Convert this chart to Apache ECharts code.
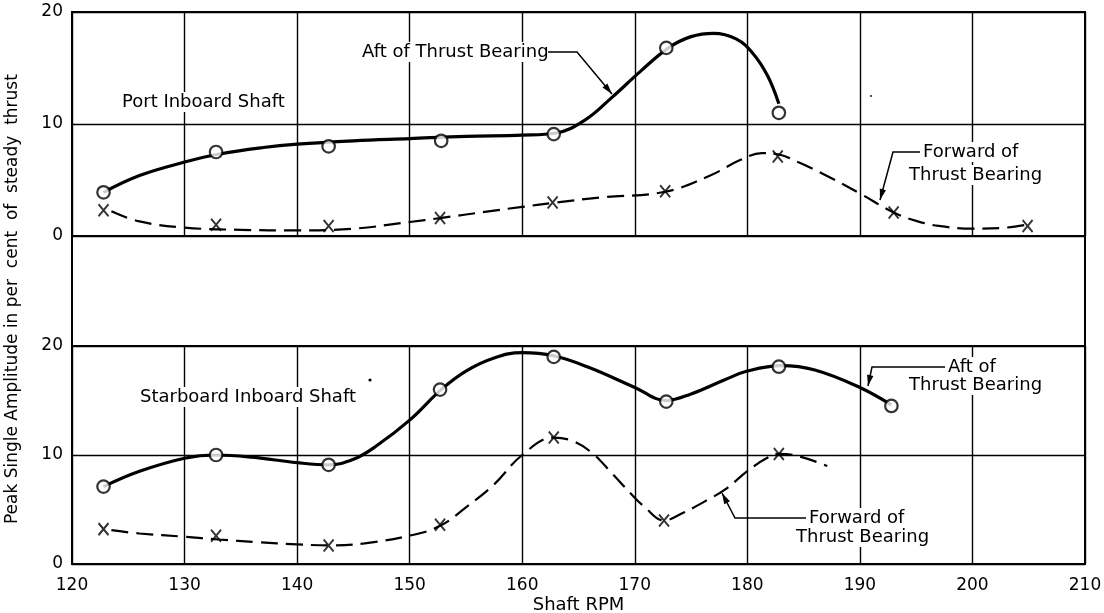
<!DOCTYPE html>
<html>
<head>
<meta charset="utf-8">
<script src="https://cdn.jsdelivr.net/npm/echarts/dist/echarts.min.js"></script>
<style>
html,body{margin:0;padding:0;background:#fff;}
#chart{width:1104px;height:613px;}
</style>
</head>
<body>
<div id="chart"></div>
<script>
// ---------- data (Shaft RPM, per cent of steady thrust) ----------
var xTicks = [120, 130, 140, 150, 160, 170, 180, 190, 200, 210];
var yTicks = [0, 10, 20];

// Port inboard shaft - aft of thrust bearing (measured points, circles)
var portAftPoints = [[122.8,3.9],[132.8,7.5],[142.8,8.0],[152.8,8.5],[162.8,9.1],[172.8,16.8],[182.8,11.0]];
// faired curve through them
var portAftCurve = [[122.8,3.9],[126,5.4],[130,6.6],[133,7.3],[137,7.9],[140,8.2],[145,8.5],[150,8.7],[155,8.9],[160,9.0],[163,9.2],[165.5,10.3],[168,12.4],[170.5,14.7],[173,16.8],[175,17.8],[177,18.1],[179,17.6],[180.5,16.3],[181.8,14.3],[182.8,11.8]];

// Port inboard shaft - forward of thrust bearing (X marks)
var portFwdPoints = [[122.8,2.3],[132.8,1.0],[142.8,0.9],[152.7,1.6],[162.7,3.0],[172.7,4.0],[182.7,7.1],[193.0,2.1],[204.9,0.9]];
var portFwdCurve = [[123.5,2.2],[126,1.3],[130,0.75],[135,0.55],[140,0.5],[145,0.65],[150,1.25],[152.7,1.6],[157,2.2],[160,2.6],[162.7,2.95],[167,3.45],[172.7,3.95],[176.7,5.4],[179.4,6.8],[181.3,7.4],[182.7,7.3],[184.5,6.6],[187,5.4],[190,3.8],[193,2.1],[195,1.35],[197,0.9],[200,0.66],[203,0.75],[204.8,1.0]];

// Starboard inboard shaft - aft of thrust bearing
var stbdAftPoints = [[122.8,7.1],[132.8,10.0],[142.8,9.1],[152.7,16.0],[162.8,19.0],[172.8,14.9],[182.8,18.1],[192.8,14.5]];
var stbdAftCurve = [[122.8,7.1],[126,8.5],[130,9.7],[132.8,10.0],[136,9.8],[140,9.3],[142.8,9.1],[145,9.6],[147,10.8],[150,13.2],[152.8,16.0],[155,17.7],[157.5,18.9],[160,19.4],[162.8,19.1],[166,18.0],[170,16.2],[172.8,15.0],[175,15.6],[178,16.9],[180,17.7],[183,18.2],[186,17.8],[190,16.2],[192.8,14.6]];

// Starboard inboard shaft - forward of thrust bearing
var stbdFwdPoints = [[122.8,3.2],[132.8,2.6],[142.8,1.7],[152.7,3.6],[162.8,11.6],[172.6,4.0],[182.8,10.1]];
var stbdFwdCurve = [[123.5,3.1],[126,2.8],[130,2.5],[133,2.25],[136.5,2.0],[140,1.8],[143,1.7],[146,1.9],[150,2.6],[152.7,3.5],[155,5.2],[157.5,7.3],[160,10.0],[162.8,11.6],[164.7,11.2],[166.3,10.1],[167.9,8.4],[169.7,6.4],[170.8,5.3],[172.6,4.0],[174.3,4.7],[176.5,5.9],[178.1,6.9],[180.1,8.6],[181.7,9.7],[182.8,10.1],[184.5,9.9],[187.1,9.0]];

// ---------- chart ----------
var FONT = 'DejaVu Sans';
var chart = echarts.init(document.getElementById('chart'), null, {renderer:'canvas'});

var L = 72, W = 1013;
var TOP1 = 12, H1 = 224, TOP2 = 346, H2 = 218;

function xAx(gi, showLabels) {
  return {
    type:'value', gridIndex:gi, min:xTicks[0], max:xTicks[xTicks.length-1], interval:10,
    axisLine:{show:false}, axisTick:{show:false},
    axisLabel:{show:showLabels, color:'#000', fontFamily:FONT, fontSize:17, margin:13},
    splitLine:{show:true, lineStyle:{color:'#000', width:1.4}},
    name: showLabels ? 'Shaft RPM' : '', nameLocation:'middle', nameGap:32,
    nameTextStyle:{color:'#000', fontFamily:FONT, fontSize:18}
  };
}
function yAx(gi) {
  return {
    type:'value', gridIndex:gi, min:yTicks[0], max:yTicks[yTicks.length-1], interval:10,
    axisLine:{show:false}, axisTick:{show:false},
    axisLabel:{color:'#000', fontFamily:FONT, fontSize:17, margin:9},
    splitLine:{show:true, lineStyle:{color:'#000', width:1.4}}
  };
}

var Xsym = 'path://M0,0L10,12M10,0L0,12';

function curve(data, gi, dashed) {
  return {
    type:'line', xAxisIndex:gi, yAxisIndex:gi, data:data, smooth:0.4,
    showSymbol:false, symbol:'none', z:3,
    lineStyle: dashed ? {color:'#000', width:2.2, type:[17,8]} : {color:'#000', width:3.2}
  };
}
function circles(data, gi) {
  return {
    type:'scatter', xAxisIndex:gi, yAxisIndex:gi, data:data, symbol:'circle', symbolSize:12.5, z:5,
    itemStyle:{color:'#fff', borderColor:'#000', borderWidth:2.2}
  };
}
function crosses(data, gi) {
  return {
    type:'scatter', xAxisIndex:gi, yAxisIndex:gi, data:data, symbol:Xsym, symbolSize:[10,12], z:5,
    itemStyle:{color:'transparent', borderColor:'#000', borderWidth:2}
  };
}

function label(text, x, y) {
  return {type:'text', x:x, y:y, z:50,
    style:{text:text, font:'18px "' + FONT + '"', fill:'#000', verticalAlign:'middle', align:'left',
      backgroundColor:'#fff', padding:[1,2]}};
}
function leader(pts) {
  var n = pts.length, tip = pts[n-1], prev = pts[n-2];
  var dx = tip[0]-prev[0], dy = tip[1]-prev[1], len = Math.sqrt(dx*dx+dy*dy);
  var ux = dx/len, uy = dy/len, hl = 11, hw = 3.2;
  var bx = tip[0]-ux*hl, by = tip[1]-uy*hl;
  return [
    {type:'polyline', z:50, shape:{points:pts}, style:{stroke:'#000', lineWidth:1.5, fill:null}},
    {type:'polygon', z:50, shape:{points:[tip,[bx-uy*hw, by+ux*hw],[bx+uy*hw, by-ux*hw]]}, style:{fill:'#000'}}
  ];
}

var graphics = [
  label('Port Inboard Shaft', 120, 102),
  label('Aft of Thrust Bearing', 360, 52),
  label('Forward of', 921, 152),
  label('Thrust Bearing', 907, 175),
  label('Starboard Inboard Shaft', 138, 397),
  label('Aft of', 946, 367),
  label('Thrust Bearing', 907, 385),
  label('Forward of', 807, 518),
  label('Thrust Bearing', 794, 537),
  {type:'circle', z:50, shape:{cx:370, cy:380, r:1.6}, style:{fill:'#000'}},
  {type:'circle', z:50, shape:{cx:871, cy:96, r:0.9}, style:{fill:'#000'}}
].concat(
  leader([[548,52],[577,52],[612,94]]),
  leader([[920,152],[893,152],[880,200]]),
  leader([[945,367],[872,367],[868,386]]),
  leader([[806,518],[735,518],[722,493]])
);

var gridBase = {left:L, width:W, show:true, borderColor:'#000', borderWidth:2, backgroundColor:'transparent',
  containLabel:false, outerBoundsMode:'none'};

var option = {
  animation:false,
  backgroundColor:'#fff',
  grid:[
    Object.assign({}, gridBase, {top:TOP1, height:H1}),
    Object.assign({}, gridBase, {top:TOP2, height:H2}),
    Object.assign({}, gridBase, {top:TOP1+H1, height:TOP2-TOP1-H1})
  ],
  xAxis:[ xAx(0,false), xAx(1,true),
    {type:'value', gridIndex:2, min:120, max:210, show:false} ],
  yAxis:[ yAx(0), yAx(1),
    {type:'value', gridIndex:2, min:0, max:1,
     axisLine:{show:false}, axisTick:{show:false}, axisLabel:{show:false}, splitLine:{show:false},
     name:'Peak Single Amplitude in per  cent  of  steady  thrust   ', nameLocation:'middle', nameGap:51, nameRotate:90,
     nameTextStyle:{color:'#000', fontFamily:FONT, fontSize:17}} ],
  series:[
    curve(portAftCurve,0,false), circles(portAftPoints,0),
    curve(portFwdCurve,0,true), crosses(portFwdPoints,0),
    curve(stbdAftCurve,1,false), circles(stbdAftPoints,1),
    curve(stbdFwdCurve,1,true), crosses(stbdFwdPoints,1)
  ],
  graphic: graphics
};
chart.setOption(option);
</script>
</body>
</html>
